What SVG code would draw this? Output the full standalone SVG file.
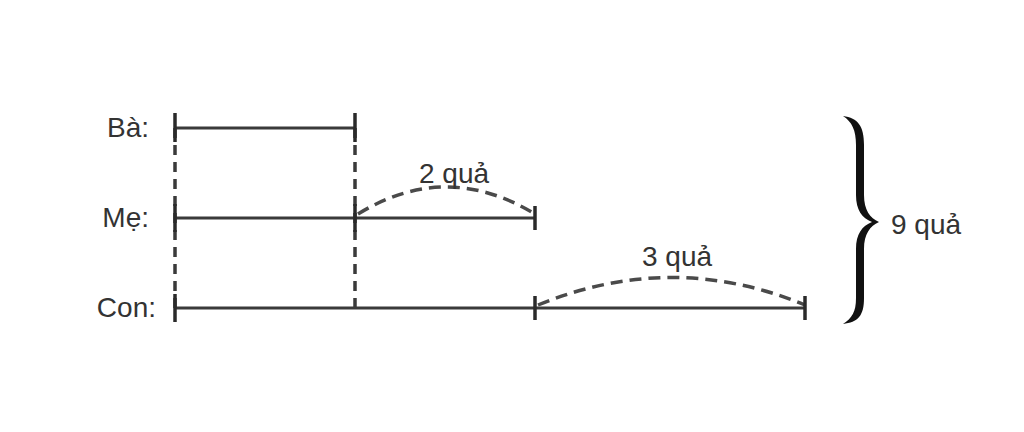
<svg xmlns="http://www.w3.org/2000/svg" width="1024" height="432" viewBox="0 0 1024 432">
<style>
.seg{stroke:#3a3a3a;stroke-width:3;fill:none}
.tick{stroke:#2a2a2a;stroke-width:3.5}
.dash{stroke:#3a3a3a;stroke-width:3.5;stroke-dasharray:10,7;fill:none}
.arc{stroke:#4a4a4a;stroke-width:3.5;stroke-dasharray:12,7;fill:none}
text{font-family:"Liberation Sans",Arial,sans-serif;font-size:28px;fill:#333}
</style>
<rect width="1024" height="432" fill="#fff"/>
<g id="connectors">
<line class="dash" x1="175" y1="128" x2="175" y2="308"/>
<line class="dash" x1="355" y1="128" x2="355" y2="308"/>
<path class="arc" d="M358,214 Q446,160 535,214"/>
<path class="arc" d="M538,305 Q672,250 805,305"/>
</g>
<g id="ba">
<text x="149" y="137" text-anchor="end">Bà:</text>
<line class="seg" x1="175" y1="128" x2="355" y2="128"/>
<line class="tick" x1="175" y1="113" x2="175" y2="142"/>
<line class="tick" x1="355" y1="113" x2="355" y2="142"/>
</g>
<g id="me">
<text x="149" y="227" text-anchor="end">Mẹ:</text>
<line class="seg" x1="175" y1="218" x2="535" y2="218"/>
<line class="tick" x1="175" y1="204" x2="175" y2="232"/>
<line class="tick" x1="355" y1="204" x2="355" y2="232"/>
<line class="tick" x1="535" y1="206" x2="535" y2="230"/>
</g>
<g id="con">
<text x="156" y="317" text-anchor="end">Con:</text>
<line class="seg" x1="175" y1="308" x2="805" y2="308"/>
<line class="tick" x1="175" y1="294" x2="175" y2="322"/>
<line class="tick" x1="535" y1="296" x2="535" y2="320"/>
<line class="tick" x1="805" y1="296" x2="805" y2="320"/>
</g>
<g id="label2"><text x="454" y="183" text-anchor="middle">2 quả</text></g>
<g id="label3"><text x="677" y="266" text-anchor="middle">3 quả</text></g>
<g id="brace">
<path fill="#111" d="M843,116 C858,118 864,126 864,145 L864,195 C864,210 870,218 879,222 C870,226 864,234 864,249 L864,298 C864,316 858,322 843,324 C852,318 856,312 856,298 L856,249 C856,234 862,226 872,222 C862,218 856,210 856,195 L856,145 C856,130 852,122 843,116 Z"/>
<text x="891" y="234">9 quả</text>
</g>
</svg>
